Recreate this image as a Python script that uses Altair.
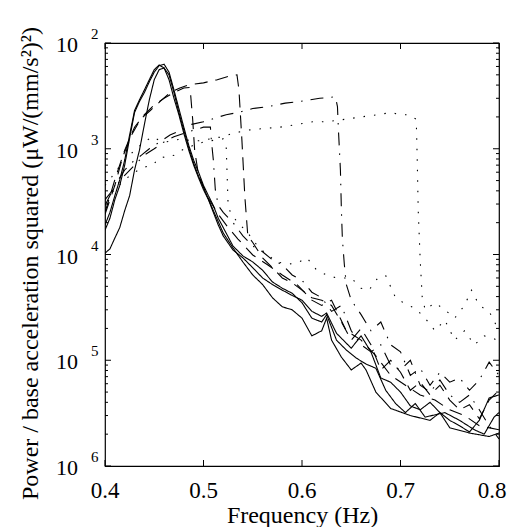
import altair as alt
import pandas as pd

# ---------------- data ----------------
# solid curves
f_s1 = [0.400,0.405,0.410,0.415,0.420,0.425,0.430,0.435,0.440,0.445,0.450,0.455,0.460,0.465,0.470,0.475,0.480,0.485,0.490,0.495,0.500,0.505,0.510,0.515,0.520,0.530,0.540,0.550,0.560,0.570,0.580,0.590,0.600,0.610,0.620,0.625,0.635,0.650,0.660,0.670,0.680,0.690,0.700,0.710,0.720,0.730,0.740,0.750,0.760,0.770,0.780,0.790,0.800]
v_s1 = [1.9e-4,2.5e-4,3.6e-4,5.1e-4,7.8e-4,1.35e-3,2.3e-3,2.9e-3,3.6e-3,4.5e-3,5.6e-3,6.2e-3,5.8e-3,4.5e-3,3.0e-3,2.1e-3,1.4e-3,9.7e-4,7.0e-4,5.3e-4,4.1e-4,3.3e-4,2.5e-4,1.9e-4,1.5e-4,1.1e-4,9.3e-5,7.5e-5,6.0e-5,5.2e-5,4.6e-5,4.1e-5,3.7e-5,2.9e-5,2.6e-5,2.8e-5,1.8e-5,1.3e-5,1.7e-5,1.2e-5,6.8e-6,6.2e-6,5.0e-6,3.7e-6,3.4e-6,4.0e-6,3.2e-6,2.7e-6,2.4e-6,2.1e-6,2.7e-6,4.4e-6,4.7e-6]

f_s2 = [0.400,0.405,0.410,0.415,0.420,0.425,0.430,0.435,0.440,0.445,0.450,0.455,0.460,0.465,0.470,0.475,0.480,0.485,0.490,0.495,0.500,0.505,0.510,0.515,0.520,0.530,0.540,0.550,0.560,0.570,0.580,0.590,0.600,0.610,0.620,0.625,0.635,0.645,0.655,0.665,0.675,0.685,0.695,0.705,0.715,0.725,0.745,0.760,0.775,0.785,0.795,0.800]
v_s2 = [1.7e-4,2.2e-4,3.3e-4,4.5e-4,7.0e-4,1.26e-3,2.2e-3,2.8e-3,3.4e-3,4.3e-3,5.3e-3,6.1e-3,6.3e-3,5.3e-3,3.6e-3,2.4e-3,1.6e-3,1.08e-3,7.8e-4,6.0e-4,4.5e-4,3.6e-4,2.9e-4,2.2e-4,1.8e-4,1.2e-4,9.7e-5,8.5e-5,7.1e-5,5.5e-5,4.8e-5,4.3e-5,3.5e-5,2.5e-5,2.3e-5,2.7e-5,1.55e-5,1.25e-5,1.05e-5,9.2e-6,8.4e-6,5.2e-6,3.9e-6,3.2e-6,3.9e-6,2.9e-6,3.2e-6,2.7e-6,2.2e-6,2.0e-6,2.9e-6,3.2e-6]

f_s3 = [0.400,0.405,0.410,0.415,0.420,0.425,0.430,0.435,0.440,0.445,0.450,0.455,0.460,0.465,0.470,0.475,0.480,0.485,0.490,0.495,0.500,0.510,0.520,0.530,0.540,0.550,0.560,0.570,0.580,0.590,0.600,0.610,0.620,0.625,0.630,0.640,0.650,0.660,0.665,0.675,0.690,0.710,0.730,0.740,0.750,0.770,0.790,0.800]
v_s3 = [1.03e-4,1.13e-4,1.43e-4,1.8e-4,2.6e-4,3.6e-4,6.3e-4,9.7e-4,1.7e-3,2.9e-3,4.5e-3,5.6e-3,5.8e-3,5.0e-3,3.4e-3,2.2e-3,1.5e-3,1.02e-3,7.3e-4,5.5e-4,4.3e-4,2.6e-4,1.6e-4,1.15e-4,8.5e-5,6.4e-5,5.2e-5,3.9e-5,3.2e-5,3.0e-5,2.5e-5,1.7e-5,1.9e-5,2.5e-5,1.55e-5,1.07e-5,8.1e-6,9.4e-6,8.1e-6,5.0e-6,3.5e-6,3.0e-6,2.7e-6,3.2e-6,2.3e-6,2.05e-6,1.9e-6,2.05e-6]

# dashed curves
f_d1 = [0.400,0.410,0.418,0.427,0.436,0.446,0.456,0.466,0.476,0.484,0.500,0.514,0.524,0.534,0.536,0.539,0.542,0.545,0.550,0.560,0.570,0.580,0.590,0.600,0.610,0.620,0.630,0.640,0.650,0.660,0.670,0.680,0.690,0.700,0.710,0.720,0.730,0.740,0.750,0.760,0.770,0.780,0.790,0.800]
v_d1 = [2.4e-4,4.5e-4,8.4e-4,1.35e-3,1.9e-3,2.3e-3,2.8e-3,3.4e-3,3.75e-3,4.0e-3,4.2e-3,4.5e-3,4.8e-3,5.0e-3,3.6e-3,1.2e-3,3.5e-4,1.5e-4,1.3e-4,9.3e-5,7.5e-5,6.0e-5,5.4e-5,4.6e-5,3.9e-5,3.7e-5,3.3e-5,2.3e-5,1.55e-5,2.0e-5,1.4e-5,8.1e-6,1.0e-5,7.7e-6,5.2e-6,6.2e-6,4.7e-6,5.8e-6,4.2e-6,3.4e-6,3.8e-6,2.8e-6,4.2e-6,5.2e-6]

f_d0 = [0.400,0.410,0.420,0.430,0.440,0.450,0.460,0.470,0.480,0.486,0.487,0.489,0.491,0.495,0.505,0.515,0.525,0.535,0.550,0.565,0.580,0.595,0.610,0.620,0.630,0.645,0.660,0.675,0.690,0.705,0.720,0.735,0.750,0.765,0.780,0.800]
v_d0 = [2.5e-4,5.1e-4,9.7e-4,1.6e-3,2.1e-3,2.6e-3,3.0e-3,3.4e-3,3.75e-3,3.8e-3,3.2e-3,1.9e-3,9.7e-4,5.6e-4,3.4e-4,2.4e-4,1.8e-4,1.4e-4,9.9e-5,8.0e-5,6.4e-5,5.2e-5,3.7e-5,3.3e-5,3.7e-5,1.9e-5,1.55e-5,1.1e-5,7.2e-6,5.8e-6,4.7e-6,4.2e-6,3.4e-6,3.0e-6,2.4e-6,2.2e-6]

# dash-dot curves
f_c1 = [0.400,0.410,0.420,0.428,0.437,0.445,0.458,0.466,0.478,0.488,0.500,0.512,0.523,0.535,0.550,0.565,0.583,0.598,0.618,0.634,0.636,0.637,0.639,0.640,0.641,0.643,0.645,0.650,0.660,0.670,0.680,0.690,0.700,0.710,0.720,0.730,0.740,0.750,0.760,0.770,0.780,0.790,0.800]
v_c1 = [2.9e-4,4.5e-4,6.3e-4,7.5e-4,8.7e-4,1.0e-3,1.2e-3,1.35e-3,1.5e-3,1.7e-3,1.8e-3,1.95e-3,2.1e-3,2.2e-3,2.4e-3,2.5e-3,2.7e-3,2.8e-3,3.0e-3,3.1e-3,2.5e-3,1.5e-3,6.3e-4,2.6e-4,1.4e-4,8.0e-5,5.2e-5,3.7e-5,2.7e-5,1.9e-5,2.3e-5,1.4e-5,1.2e-5,7.2e-6,8.4e-6,5.8e-6,7.7e-6,6.2e-6,6.8e-6,5.2e-6,6.5e-6,9.6e-6,7.2e-6]

f_c0 = [0.400,0.410,0.420,0.430,0.440,0.450,0.460,0.470,0.480,0.490,0.500,0.507,0.508,0.510,0.512,0.515,0.520,0.530,0.540,0.550,0.560,0.570,0.580,0.590,0.600,0.610,0.620,0.630,0.640,0.650,0.660,0.670,0.680,0.690,0.700,0.710,0.720,0.730,0.740,0.750,0.760,0.770,0.780,0.790,0.800]
v_c0 = [3.3e-4,4.3e-4,5.6e-4,7.0e-4,8.7e-4,1.0e-3,1.16e-3,1.3e-3,1.4e-3,1.5e-3,1.6e-3,1.6e-3,1.2e-3,7.8e-4,4.1e-4,2.9e-4,2.5e-4,2.0e-4,1.5e-4,1.2e-4,1.06e-4,8.9e-5,8.0e-5,6.4e-5,5.7e-5,4.4e-5,3.9e-5,2.9e-5,3.3e-5,1.9e-5,1.4e-5,1.2e-5,1.4e-5,9.0e-6,8.1e-6,1.0e-5,5.8e-6,5.0e-6,6.5e-6,4.7e-6,4.0e-6,4.7e-6,3.4e-6,2.4e-6,1.8e-6]

# dotted curves
f_p1 = [0.400,0.405,0.410,0.420,0.430,0.440,0.448,0.455,0.462,0.470,0.478,0.490,0.500,0.510,0.520,0.530,0.545,0.560,0.578,0.595,0.611,0.625,0.644,0.660,0.677,0.690,0.700,0.708,0.716,0.717,0.718,0.720,0.722,0.725,0.735,0.745,0.755,0.765,0.772,0.780,0.790,0.800]
v_p1 = [4.5e-4,5.1e-4,6.0e-4,7.8e-4,9.7e-4,1.16e-3,1.3e-3,1.2e-3,1.16e-3,1.2e-3,1.24e-3,1.18e-3,1.2e-3,1.26e-3,1.3e-3,1.4e-3,1.5e-3,1.55e-3,1.6e-3,1.7e-3,1.8e-3,1.8e-3,1.9e-3,2.0e-3,2.1e-3,2.2e-3,2.1e-3,2.1e-3,1.9e-3,7.8e-4,2.6e-4,8.9e-5,4.0e-5,3.0e-5,3.5e-5,3.0e-5,2.5e-5,3.3e-5,4.6e-5,3.3e-5,2.9e-5,1.9e-5]

f_p0 = [0.400,0.410,0.420,0.430,0.440,0.448,0.457,0.463,0.470,0.478,0.490,0.500,0.510,0.520,0.523,0.524,0.525,0.528,0.535,0.545,0.555,0.565,0.575,0.585,0.595,0.605,0.615,0.625,0.635,0.650,0.660,0.668,0.677,0.685,0.695,0.705,0.715,0.725,0.735,0.745,0.755,0.765,0.775,0.785,0.795,0.800]
v_p0 = [3.3e-4,4.1e-4,5.1e-4,6.0e-4,6.7e-4,7.0e-4,8.4e-4,8.2e-4,8.7e-4,9.7e-4,1.08e-3,1.16e-3,1.2e-3,1.24e-3,1.08e-3,5.6e-4,2.9e-4,2.4e-4,2.0e-4,1.6e-4,1.2e-4,9.9e-5,8.5e-5,8.1e-5,8.3e-5,9.3e-5,7.1e-5,6.4e-5,6.0e-5,6.0e-5,4.8e-5,4.6e-5,6.0e-5,6.3e-5,3.9e-5,3.4e-5,3.1e-5,2.5e-5,1.9e-5,2.4e-5,1.55e-5,1.9e-5,1.4e-5,1.7e-5,1.6e-5,1.5e-5]

series = [
    ("s1", "solid", f_s1, v_s1),
    ("s2", "solid", f_s2, v_s2),
    ("s3", "solid", f_s3, v_s3),
    ("d1", "dashed", f_d1, v_d1),
    ("d0", "dashed", f_d0, v_d0),
    ("c1", "dashdot", f_c1, v_c1),
    ("c0", "dashdot", f_c0, v_c0),
    ("p1", "dotted", f_p1, v_p1),
    ("p0", "dotted", f_p0, v_p0),
]

x_ticks = [0.4, 0.5, 0.6, 0.7, 0.8]
x_labels = ["0.4", "0.5", "0.6", "0.7", "0.8"]
y_major = [1e-6, 1e-5, 1e-4, 1e-3, 1e-2]
y_exp = ["6", "5", "4", "3", "2"]
y_minor = [m * d for d in [1e-6, 1e-5, 1e-4, 1e-3] for m in [2, 3, 4, 5, 6, 7, 8, 9]]

rows = []
for name, style, fs, vs in series:
    for i, (f, v) in enumerate(zip(fs, vs)):
        rows.append({"series": name, "style": style, "i": i, "f": f, "v": v})
df = pd.DataFrame(rows)

W, H = 394, 423
FONT = "Liberation Serif"

xscale = alt.Scale(domain=[0.4, 0.8], nice=False, zero=False)
yscale = alt.Scale(type="log", domain=[1e-6, 1e-2], nice=False)

xaxis = alt.Axis(values=x_ticks, labels=False, ticks=False, domain=False, grid=False,
                 title="Frequency (Hz)", titleFont=FONT, titleFontSize=24,
                 titleFontWeight="normal", titleColor="black",
                 titleBaseline="alphabetic", titleY=56)
yaxis = alt.Axis(values=y_major, labels=False, ticks=False, domain=False, grid=False,
                 title="Power / base acceleration squared (μW/(mm/s²)²)",
                 titleFont=FONT, titleFontSize=24, titleFontWeight="normal",
                 titleColor="black", titleAngle=-90, titleBaseline="alphabetic",
                 titleX=-68, titleY=220, titleAlign="center")

lines = alt.Chart(df).mark_line(color="black", strokeWidth=1.1, clip=True).encode(
    x=alt.X("f:Q", scale=xscale, axis=xaxis),
    y=alt.Y("v:Q", scale=yscale, axis=yaxis),
    detail="series:N",
    order="i:Q",
    strokeDash=alt.StrokeDash("style:N",
                              scale=alt.Scale(domain=["solid", "dashed", "dashdot", "dotted"],
                                              range=[[1, 0], [13, 8], [13, 8, 1.5, 8], [1.5, 9]]),
                              legend=None),
)

ymaj = pd.DataFrame({"v": y_major, "e": y_exp})
ymin = pd.DataFrame({"v": y_minor})
xt = pd.DataFrame({"f": x_ticks, "lab": x_labels})

def yrule(data, x1, x2):
    return alt.Chart(data).mark_rule(color="black", strokeWidth=1).encode(
        y=alt.Y("v:Q", scale=yscale, axis=yaxis), x=alt.value(x1), x2=alt.value(x2))

def xrule(y1, y2):
    return alt.Chart(xt).mark_rule(color="black", strokeWidth=1).encode(
        x=alt.X("f:Q", scale=xscale, axis=xaxis), y=alt.value(y1), y2=alt.value(y2))

ticks = [
    yrule(ymaj, 0, 6), yrule(ymaj, W, W - 6),
    yrule(ymin, 0, 3), yrule(ymin, W, W - 3),
    xrule(H, H - 6), xrule(0, 6),
]

lab10 = alt.Chart(ymaj).mark_text(font=FONT, fontSize=22, align="right", baseline="middle",
                                  color="black", dy=2).encode(
    y=alt.Y("v:Q", scale=yscale, axis=yaxis), x=alt.value(-27), text=alt.value("10"))
labexp = alt.Chart(ymaj).mark_text(font=FONT, fontSize=15, align="left", baseline="middle",
                                   color="black", dy=-9).encode(
    y=alt.Y("v:Q", scale=yscale, axis=yaxis), x=alt.value(-14), text="e:N")

xlab_mid = alt.Chart(xt[xt["f"] < 0.75]).mark_text(
    font=FONT, fontSize=23, align="center", baseline="alphabetic", color="black").encode(
    x=alt.X("f:Q", scale=xscale, axis=xaxis), y=alt.value(H + 32), text="lab:N")
xlab_end = alt.Chart(xt[xt["f"] > 0.75]).mark_text(
    font=FONT, fontSize=23, align="center", baseline="alphabetic", color="black", dx=-7).encode(
    x=alt.X("f:Q", scale=xscale, axis=xaxis), y=alt.value(H + 32), text="lab:N")

chart = alt.layer(lines, *ticks, lab10, labexp, xlab_mid, xlab_end).properties(
    width=W, height=H,
    autosize="none",
    padding={"left": 97, "top": 35, "right": 9, "bottom": 61},
    background="white",
).configure_view(stroke="black", strokeWidth=1.2).configure_axis(
    labelFont=FONT, titleFont=FONT)

chart.save("out.html", embed_options={"renderer": "svg", "actions": False})
